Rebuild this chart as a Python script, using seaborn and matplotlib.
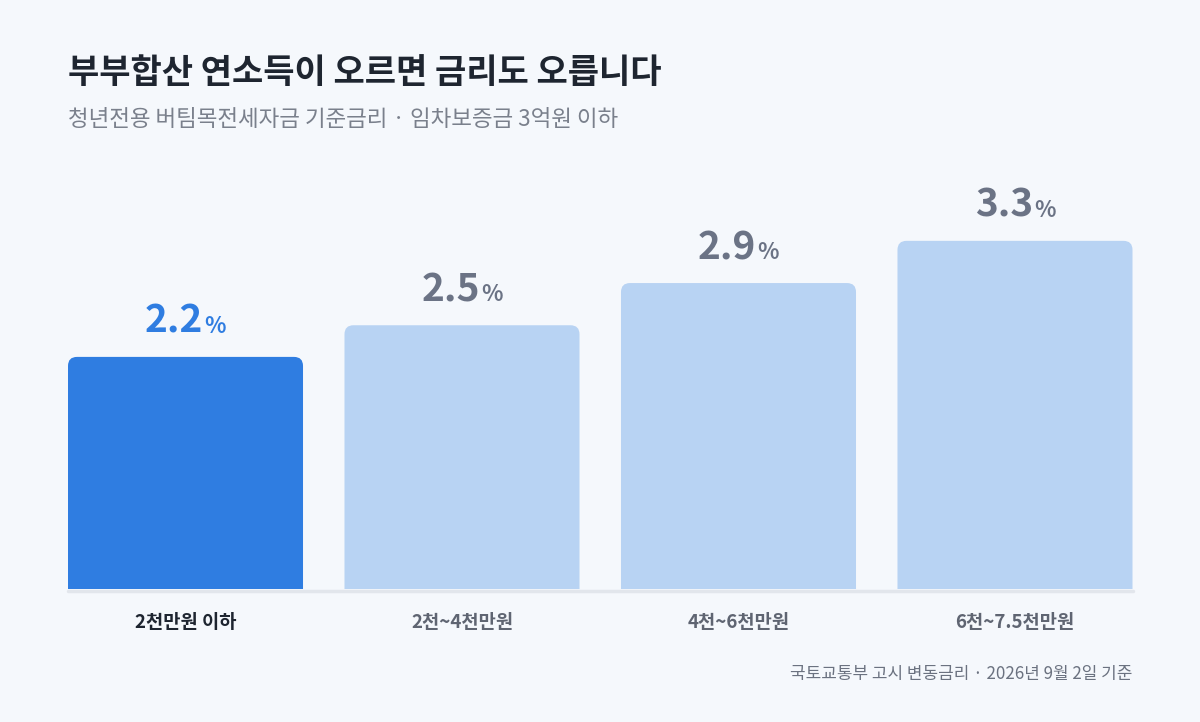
import matplotlib
matplotlib.use('Agg')
import matplotlib.pyplot as plot
from matplotlib.patches import FancyBboxPatch
import pandas as pd
import seaborn as sns

# data
categories = ['2천만원 이하', '2천~4천만원', '4천~6천만원', '6천~7.5천만원']
rates = [2.2, 2.5, 2.9, 3.3]
bar_colors = ['#2F7DE1', '#B8D3F3', '#B8D3F3', '#B8D3F3']
label_colors = ['#2F7DE1', '#6B7385', '#6B7385', '#6B7385']
tick_colors = ['#1E2530', '#5F6572', '#5F6572', '#5F6572']

title = '부부합산 연소득이 오르면 금리도 오릅니다'
subtitle = '청년전용 버팀목전세자금 기준금리 · 임차보증금 3억원 이하'
footnote = '국토교통부 고시 변동금리 · 2026년 9월 2일 기준'

bg = '#F5F8FC'
W, H = 1200, 722

sns.set_theme(style='white')
plot.rcParams['font.family'] = ['Noto Sans CJK KR', 'DejaVu Sans']

df = pd.DataFrame({'category': categories, 'rate': rates})

fig = plot.figure(figsize=(W / 100, H / 100), dpi=100, facecolor=bg)
ax = fig.add_axes([68 / W, (H - 589) / H, (1132.5 - 68) / W, 422 / H])
ax.set_facecolor(bg)

sns.barplot(data=df, x='category', y='rate', hue='category', palette=bar_colors,
            width=0.85, legend=False, ax=ax, saturation=1)
ax.set_xlim(-0.425, 3.425)
ax.set_ylim(0, 4)

# swap plain bars for rounded ones (bottom corners hidden below the axis)
px_x = (ax.get_xlim()[1] - ax.get_xlim()[0]) / ((1132.5 - 68))
px_y = (ax.get_ylim()[1] - ax.get_ylim()[0]) / 422
radius = 9 * px_x
for patch in list(ax.patches):
    x0, w, h = patch.get_x(), patch.get_width(), patch.get_height()
    fc = patch.get_facecolor()
    patch.remove()
    rb = FancyBboxPatch((x0, -0.3), w, h + 0.3,
                        boxstyle=f'round,pad=0,rounding_size={radius}',
                        mutation_aspect=px_y / px_x, facecolor=fc,
                        edgecolor='none', zorder=2)
    ax.add_patch(rb)

# baseline sits just under the bars
ax.axhline(-1.5 * px_y, color='#E2E6EC', lw=2.5, zorder=1, clip_on=False)

for s in ax.spines.values():
    s.set_visible(False)
ax.set_yticks([])
ax.set_xlabel('')
ax.set_ylabel('')
ax.tick_params(axis='x', length=0, pad=17)
ax.set_xticks(range(len(categories)))
ax.set_xticklabels(categories)
for lab, c in zip(ax.get_xticklabels(), tick_colors):
    lab.set_color(c)
    lab.set_fontsize(13.5)
    lab.set_fontweight('bold')

# value labels: big number + small percent sign, centred together
fig.canvas.draw()
renderer = fig.canvas.get_renderer()
gap = 1
for i, (v, c) in enumerate(zip(rates, label_colors)):
    num = ax.annotate(f'{v:.1f}', (i, v), xytext=(0, 24), textcoords='offset pixels',
                      ha='left', va='baseline', fontsize=28, fontweight='bold', color=c)
    pct = ax.annotate('%', (i, v), xytext=(0, 24), textcoords='offset pixels',
                      ha='left', va='baseline', fontsize=16, fontweight='bold', color=c)
    wn = num.get_window_extent(renderer).width
    wp = pct.get_window_extent(renderer).width
    total = wn + wp + gap
    num.xyann = (-total / 2, 24)
    pct.xyann = (-total / 2 + wn + gap, 24)

fig.text(68 / W, 1 - 72 / H, title, ha='left', va='center', fontsize=24.5,
         fontweight='bold', color='#1E2530')
fig.text(68 / W, 1 - 119 / H, subtitle, ha='left', va='center', fontsize=16.2,
         color='#7A808C')
fig.text(1132 / W, 1 - 674 / H, footnote, ha='right', va='center', fontsize=12.2,
         color='#6B7280')

fig.savefig('out.png', dpi=100, facecolor=bg)
